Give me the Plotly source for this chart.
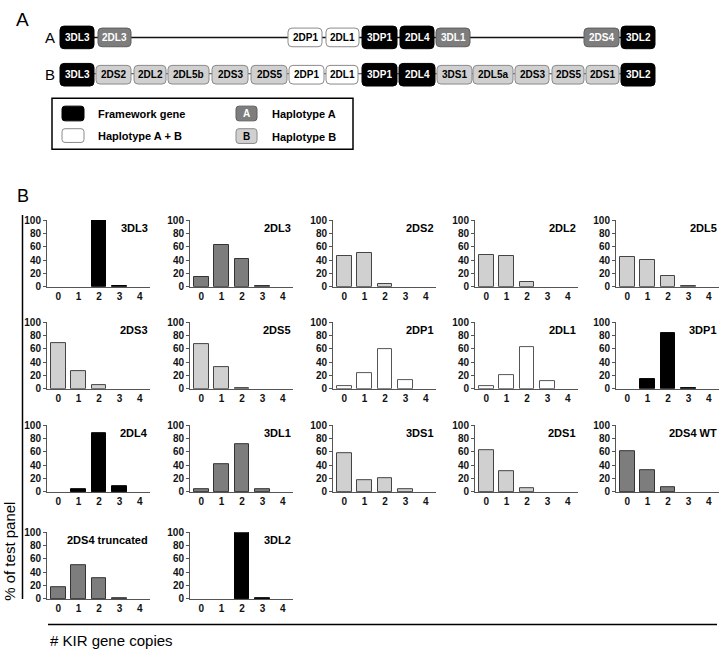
import plotly.graph_objects as go

# ---------------- DATA ----------------
copies = [0, 1, 2, 3, 4]
copy_labels = ["0", "1", "2", "3", "4"]
y_ticks = [0, 20, 40, 60, 80, 100]

genes = ["3DL3", "2DL3", "2DS2", "2DL2", "2DL5",
         "2DS3", "2DS5", "2DP1", "2DL1", "3DP1",
         "2DL4", "3DL1", "3DS1", "2DS1", "2DS4 WT",
         "2DS4 truncated", "3DL2"]
gene_class = ["framework", "A", "B", "B", "B",
              "B", "B", "AB", "AB", "framework",
              "framework", "A", "B", "B", "A",
              "A", "framework"]

pct_3DL3 = [0, 0, 100, 1, 0]
pct_2DL3 = [15, 62, 42, 1, 0]
pct_2DS2 = [46, 50, 4, 0, 0]
pct_2DL2 = [47, 46, 7, 0, 0]
pct_2DL5 = [44, 40, 16, 1, 0]
pct_2DS3 = [68, 27, 5, 0, 0]
pct_2DS5 = [67, 33, 1, 0, 0]
pct_2DP1 = [4, 24, 59, 13, 0]
pct_2DL1 = [4, 21, 62, 12, 0]
pct_3DP1 = [0, 15, 84, 1, 0]
pct_2DL4 = [0, 4, 88, 8, 0]
pct_3DL1 = [4, 41, 71, 4, 0]
pct_3DS1 = [58, 17, 20, 4, 0]
pct_2DS1 = [62, 31, 5, 0, 0]
pct_2DS4_WT = [61, 33, 7, 0, 0]
pct_2DS4_trunc = [18, 50, 31, 1, 0]
pct_3DL2 = [0, 0, 100, 1, 0]

series = [pct_3DL3, pct_2DL3, pct_2DS2, pct_2DL2, pct_2DL5,
          pct_2DS3, pct_2DS5, pct_2DP1, pct_2DL1, pct_3DP1,
          pct_2DL4, pct_3DL1, pct_3DS1, pct_2DS1, pct_2DS4_WT,
          pct_2DS4_trunc, pct_3DL2]

hapA_genes = ["3DL3", "2DL3", "2DP1", "2DL1", "3DP1", "2DL4", "3DL1", "2DS4", "3DL2"]
hapA_class = ["framework", "A", "AB", "AB", "framework", "framework", "A", "A", "framework"]
hapB_genes = ["3DL3", "2DS2", "2DL2", "2DL5b", "2DS3", "2DS5", "2DP1", "2DL1",
              "3DP1", "2DL4", "3DS1", "2DL5a", "2DS3", "2DS5", "2DS1", "3DL2"]
hapB_class = ["framework", "B", "B", "B", "B", "B", "AB", "AB",
              "framework", "framework", "B", "B", "B", "B", "B", "framework"]

legend_items = ["Framework gene", "Haplotype A + B", "Haplotype A", "Haplotype B"]
legend_class = ["framework", "AB", "A", "B"]

# ---------------- LAYOUT / STYLE ----------------
W, H = 723, 655
FONT = "Liberation Sans, Arial, sans-serif"
fill = {"framework": "#000000", "A": "#7d7d7d", "B": "#d0d0d0", "AB": "#ffffff"}
edge = {"framework": "#000000", "A": "#5e5e5e", "B": "#8a8a8a", "AB": "#8a8a8a"}
txtc = {"framework": "#ffffff", "A": "#ffffff", "B": "#000000", "AB": "#000000"}
bar_edge = {"framework": "#000000", "A": "#333333", "B": "#444444", "AB": "#555555"}

col_left = [47, 190, 333, 475, 616]
row_top = [218, 322, 427, 536]
plot_w, plot_h = 103, 68

hapA_x = [(60, 94), (98, 131), (288, 322), (326, 359), (362, 397), (400, 434),
          (436, 470), (584, 619), (621, 655)]
hapB_x = [(60, 94), (96, 131), (134, 166), (168, 209), (212, 248), (251, 287),
          (289, 324), (326, 358), (362, 397), (399, 435), (437, 472), (473, 513),
          (515, 549), (552, 584), (586, 619), (621, 655)]
rowA_y, rowB_y = 32, 70


def ax_id(n):
    return "" if n == 1 else str(n)


fig = go.Figure()
layout = dict(width=W, height=H, margin=dict(l=0, r=0, t=0, b=0),
              paper_bgcolor="white", plot_bgcolor="rgba(0,0,0,0)",
              showlegend=False, bargap=0, font=dict(family=FONT, color="#000"))
annotations = []
shapes = []

for i, (g, cls, vals) in enumerate(zip(genes, gene_class, series)):
    r, c = divmod(i, 5)
    s = ax_id(i + 1)
    x0 = col_left[c] / W
    x1 = (col_left[c] + plot_w) / W
    y1 = 1 - row_top[r] / H
    y0 = 1 - (row_top[r] + plot_h) / H
    fig.add_trace(go.Bar(x=copies, y=vals, xaxis=f"x{s}", yaxis=f"y{s}",
                         width=0.72, marker=dict(color=fill[cls],
                         line=dict(color=bar_edge[cls],
                                   width=[1 if v > 0 else 0 for v in vals]))))
    layout[f"xaxis{s}"] = dict(domain=[x0, x1], anchor=f"y{s}", range=[-0.55, 4.5],
                               tickvals=copies, ticktext=copy_labels, showline=True,
                               linecolor="#555", linewidth=1, ticks="", showgrid=False,
                               zeroline=False, fixedrange=True,
                               tickfont=dict(size=10, family=FONT, weight="bold", color="#111"))
    layout[f"yaxis{s}"] = dict(domain=[y0, y1], anchor=f"x{s}", range=[0, 100],
                               tickvals=y_ticks, showline=True, linecolor="#555",
                               linewidth=1, ticks="outside", ticklen=3, tickcolor="#555",
                               showgrid=False, zeroline=False, fixedrange=True,
                               tickfont=dict(size=10, family=FONT, weight="bold", color="#111"))
    annotations.append(dict(text=g, xref=f"x{s} domain", yref=f"y{s} domain",
                            x=1.0, y=1.0, xanchor="right", yanchor="top",
                            showarrow=False,
                            font=dict(size=11, family=FONT, weight="bold", color="#000")))

# overlay axis in pixel units for the diagram and frame
ov = ax_id(len(genes) + 1)
layout[f"xaxis{ov}"] = dict(domain=[0, 1], range=[0, W], visible=False, fixedrange=True, anchor=f"y{ov}")
layout[f"yaxis{ov}"] = dict(domain=[0, 1], range=[H, 0], visible=False, fixedrange=True, anchor=f"x{ov}")
OX, OY = f"x{ov}", f"y{ov}"
fig.add_trace(go.Scatter(x=[0], y=[0], xaxis=OX, yaxis=OY, mode="markers",
                         marker=dict(opacity=0), hoverinfo="skip"))


def rrect(x0, y0, x1, y1, r=4):
    return (f"M{x0+r},{y0} L{x1-r},{y0} Q{x1},{y0} {x1},{y0+r} L{x1},{y1-r} "
            f"Q{x1},{y1} {x1-r},{y1} L{x0+r},{y1} Q{x0},{y1} {x0},{y1-r} "
            f"L{x0},{y0+r} Q{x0},{y0} {x0+r},{y0} Z")


def txt(text, x, y, size, color="#000", weight="normal", xanchor="center", angle=0):
    annotations.append(dict(text=text, xref=OX, yref=OY, x=x, y=y, xanchor=xanchor,
                            yanchor="middle", showarrow=False, textangle=angle,
                            font=dict(size=size, family=FONT, color=color, weight=weight)))


def line(x0, y0, x1, y1, w=1.5, color="#000"):
    shapes.append(dict(type="line", xref=OX, yref=OY, x0=x0, y0=y0, x1=x1, y1=y1,
                       line=dict(color=color, width=w)))


# haplotype rows
line(94, rowA_y, 621, rowA_y, 1.5, "#111")
line(94, rowB_y - 1, 621, rowB_y - 1, 1, "#333")
for names, classes, xs, yc in [(hapA_genes, hapA_class, hapA_x, rowA_y),
                                (hapB_genes, hapB_class, hapB_x, rowB_y)]:
    for g, cls, (xl, xr) in zip(names, classes, xs):
        hh = 11.5 if cls == "framework" else 9.5
        shapes.append(dict(type="path", xref=OX, yref=OY,
                           path=rrect(xl, yc - hh, xr, yc + hh, 4),
                           fillcolor=fill[cls], line=dict(color=edge[cls], width=1)))
        txt(g, (xl + xr) / 2, yc, 10, txtc[cls], "bold")

txt("A", 50, rowA_y, 15, xanchor="center")
txt("B", 50, rowB_y, 15, xanchor="center")
txt("A", 14, 14, 19, xanchor="left")
txt("B", 15, 194, 18, xanchor="left")

# legend box
shapes.append(dict(type="rect", xref=OX, yref=OY, x0=52, y0=94, x1=353, y1=146,
                   line=dict(color="#000", width=1.5), fillcolor="rgba(0,0,0,0)"))
leg_pos = [(62, 84, 102, 117, 96, 110), (62, 84, 125, 139, 96, 132),
           (236, 257, 102, 117, 270, 110), (236, 257, 125, 140, 270, 133)]
leg_letter = {"A": "A", "B": "B"}
for item, cls, (bx0, bx1, by0, by1, tx, ty) in zip(legend_items, legend_class, leg_pos):
    shapes.append(dict(type="path", xref=OX, yref=OY, path=rrect(bx0, by0, bx1, by1, 3),
                       fillcolor=fill[cls], line=dict(color=edge[cls], width=1)))
    if cls in leg_letter:
        txt(leg_letter[cls], (bx0 + bx1) / 2, (by0 + by1) / 2 + 0.5, 10, txtc[cls], "bold")
    txt(item, tx, ty, 11, "#000", "bold", xanchor="left")

# panel B frame lines and titles
line(22.5, 213, 22.5, 604, 1.5)
line(48, 630, 717, 630, 1.5)
txt("# KIR gene copies", 48, 646, 15, xanchor="left")
txt("% of test panel", 10, 556, 15, angle=-90)

layout["annotations"] = annotations
layout["shapes"] = shapes
fig.update_layout(**layout)
fig.write_html("out.html", config={"displayModeBar": False},
               post_script="document.body.style.margin='0';document.body.style.overflow='hidden';")
